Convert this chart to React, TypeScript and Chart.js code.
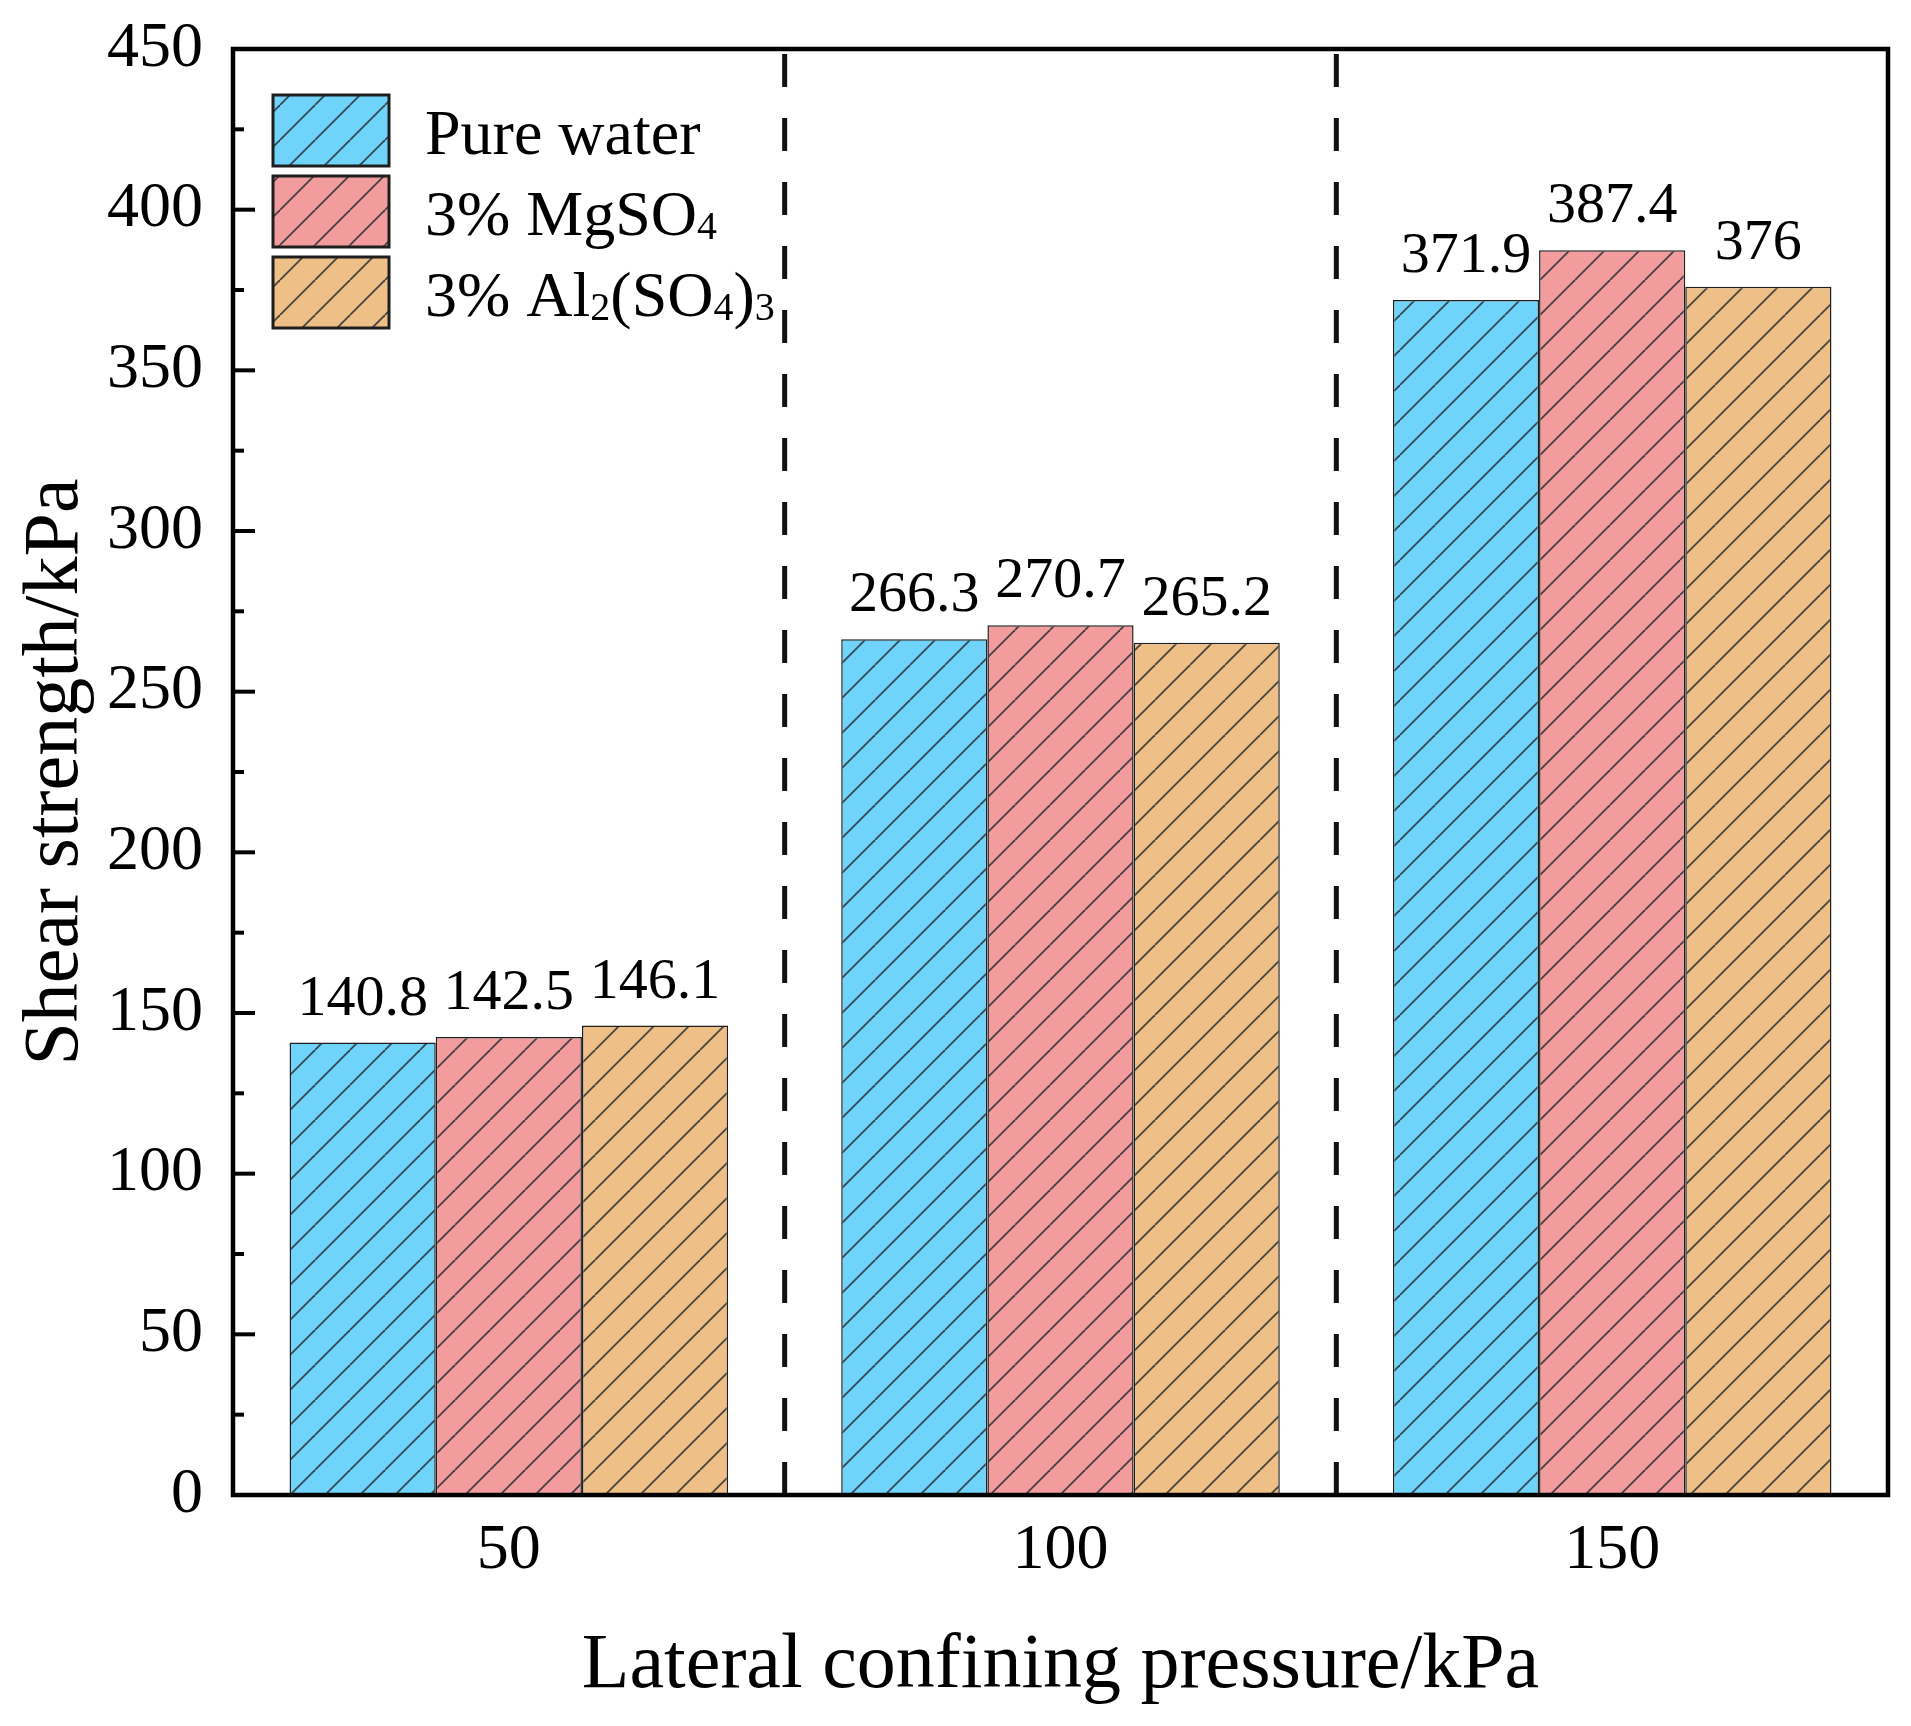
import React, { useEffect, useRef } from "react";
import { Chart, registerables } from "chart.js";

Chart.register(...registerables);

const categories = ["50", "100", "150"];
const seriesNames = ["Pure water", "3% MgSO₄", "3% Al₂(SO₄)₃"];
const pureWater = [140.8, 266.3, 371.9];
const mgso4 = [142.5, 270.7, 387.4];
const al2so43 = [146.1, 265.2, 376];
const seriesColors = ["#70D3FA", "#F29C9E", "#EEBF86"];
const yMin = 0;
const yMax = 450;
const yStep = 50;
const yMinorStep = 25;
const xTitle = "Lateral confining pressure/kPa";
const yTitle = "Shear strength/kPa";

const FONT = "'Liberation Serif', 'Times New Roman', serif";

const SUB: Record<string, string> = {
  "₀": "0", "₁": "1", "₂": "2", "₃": "3", "₄": "4",
  "₅": "5", "₆": "6", "₇": "7", "₈": "8", "₉": "9",
};

function makePattern(ctx: CanvasRenderingContext2D, color: string) {
  const s = 35;
  const c = document.createElement("canvas");
  c.width = s;
  c.height = s;
  const g = c.getContext("2d")!;
  g.fillStyle = color;
  g.fillRect(0, 0, s, s);
  g.strokeStyle = "rgba(40,45,50,0.85)";
  g.lineWidth = 1.8;
  for (const a of [-s, 0, s]) {
    g.beginPath();
    g.moveTo(a, s);
    g.lineTo(a + s, 0);
    g.stroke();
  }
  return ctx.createPattern(c, "repeat");
}

function drawRich(ctx: CanvasRenderingContext2D, text: string, x: number, y: number, size: number) {
  const runs: { sub: boolean; t: string }[] = [];
  for (const ch of text) {
    const sub = ch in SUB;
    const t = sub ? SUB[ch] : ch;
    const last = runs[runs.length - 1];
    if (last && last.sub === sub) last.t += t;
    else runs.push({ sub, t });
  }
  let cx = x;
  ctx.textAlign = "left";
  ctx.textBaseline = "alphabetic";
  for (const r of runs) {
    if (r.sub) {
      ctx.font = `${Math.round(size * 0.63)}px ${FONT}`;
      ctx.fillText(r.t, cx, y + 4);
    } else {
      ctx.font = `${size}px ${FONT}`;
      ctx.fillText(r.t, cx, y);
    }
    cx += ctx.measureText(r.t).width;
  }
}

const decorPlugin = {
  id: "decor",
  afterDatasetsDraw(chart: any) {
    const ctx: CanvasRenderingContext2D = chart.ctx;
    const { left, right, top, bottom } = chart.chartArea;
    const xs = chart.scales.x;
    const ys = chart.scales.y;
    ctx.save();

    // dashed separators between category groups
    ctx.strokeStyle = "#111";
    ctx.lineWidth = 5;
    ctx.setLineDash([33, 31]);
    for (let i = 0; i < categories.length - 1; i++) {
      const bx = (xs.getPixelForValue(i) + xs.getPixelForValue(i + 1)) / 2;
      ctx.beginPath();
      ctx.moveTo(bx, bottom);
      ctx.lineTo(bx, top);
      ctx.stroke();
    }
    ctx.setLineDash([]);

    // value labels
    ctx.fillStyle = "#000";
    ctx.font = `58px ${FONT}`;
    ctx.textAlign = "center";
    ctx.textBaseline = "alphabetic";
    chart.data.datasets.forEach((ds: any, di: number) => {
      const meta = chart.getDatasetMeta(di);
      meta.data.forEach((bar: any, i: number) => {
        ctx.fillText(String(ds.data[i]), bar.x, bar.y - 28);
      });
    });

    // frame
    ctx.strokeStyle = "#000";
    ctx.lineWidth = 4.5;
    ctx.strokeRect(left, top, right - left, bottom - top);

    // inward y ticks (major + minor)
    ctx.lineWidth = 4;
    for (let v = yMin; v <= yMax; v += yMinorStep) {
      const py = ys.getPixelForValue(v);
      const len = v % yStep === 0 ? 22 : 11;
      ctx.beginPath();
      ctx.moveTo(left, py);
      ctx.lineTo(left + len, py);
      ctx.stroke();
    }

    // legend
    const lx = 273, ly0 = 95, bw = 116, bh = 71, gap = 81;
    chart.data.datasets.forEach((ds: any, i: number) => {
      const y = ly0 + i * gap;
      ctx.fillStyle = ds.backgroundColor;
      ctx.fillRect(lx, y, bw, bh);
      ctx.lineWidth = 3;
      ctx.strokeStyle = "#1e1e1e";
      ctx.strokeRect(lx, y, bw, bh);
      ctx.fillStyle = "#000";
      drawRich(ctx, ds.label, 425, y + bh / 2 + 23, 64);
    });

    ctx.restore();
  },
};

export default function App() {
  const ref = useRef<HTMLCanvasElement>(null);

  useEffect(() => {
    document.body.style.margin = "0";
    const canvas = ref.current!;
    const ctx = canvas.getContext("2d")!;
    const patterns = seriesColors.map((c) => makePattern(ctx, c));
    const seriesValues = [pureWater, mgso4, al2so43];

    const chart = new Chart(canvas, {
      type: "bar",
      data: {
        labels: categories,
        datasets: seriesNames.map((name, i) => ({
          label: name,
          data: seriesValues[i],
          backgroundColor: patterns[i] as any,
          borderColor: "#1e1e1e",
          borderWidth: 1.5,
          categoryPercentage: 0.795,
          barPercentage: 1,
        })),
      },
      options: {
        animation: false,
        responsive: false,
        devicePixelRatio: 1,
        layout: { padding: { top: 49, right: 23, bottom: 0, left: 0 } },
        plugins: {
          legend: { display: false },
          tooltip: { enabled: false },
        },
        scales: {
          x: {
            grid: { display: false, drawTicks: false, tickLength: 0 },
            border: { display: false },
            ticks: {
              color: "#000",
              font: { family: FONT, size: 64, lineHeight: 1.2 },
              padding: 18,
              maxRotation: 0,
            },
            title: {
              display: true,
              text: xTitle,
              color: "#000",
              font: { family: FONT, size: 78, lineHeight: 1.2 },
              padding: { top: 0, bottom: 13 },
            },
            afterFit: (s: any) => {
              s.height = 231;
              s.paddingLeft = 0;
              s.paddingRight = 0;
            },
          },
          y: {
            min: yMin,
            max: yMax,
            grid: { display: false, drawTicks: false, tickLength: 0 },
            border: { display: false },
            ticks: {
              stepSize: yStep,
              color: "#000",
              font: { family: FONT, size: 64, lineHeight: 1.2 },
              padding: 30,
            },
            title: {
              display: true,
              text: yTitle,
              color: "#000",
              font: { family: FONT, size: 78, lineHeight: 1.2 },
              padding: { top: 10, bottom: 0 },
            },
            afterFit: (s: any) => {
              s.width = 233;
              s.paddingTop = 0;
              s.paddingBottom = 0;
            },
          },
        },
      },
      plugins: [decorPlugin],
    });

    return () => chart.destroy();
  }, []);

  return (
    <div style={{ width: 1911, height: 1726, background: "#fff" }}>
      <canvas ref={ref} width={1911} height={1726} style={{ display: "block" }} />
    </div>
  );
}
